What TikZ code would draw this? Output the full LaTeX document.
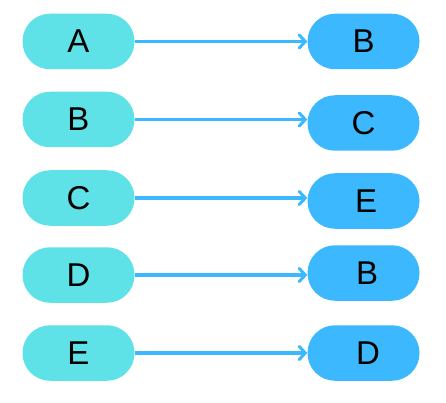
\documentclass[tikz,border=0pt]{standalone}
\usepackage{fontspec}
\setmainfont{Liberation Sans}
\usetikzlibrary{arrows.meta}
\definecolor{leftc}{HTML}{5EE2E7}
\definecolor{rightc}{HTML}{3CB8FF}
\definecolor{arrc}{HTML}{3CB8FF}
\begin{document}
\begin{tikzpicture}[x=1pt,y=-1pt,
  pill/.style={rounded corners=27.5pt,minimum width=112pt,minimum height=55.5pt,inner sep=0pt,font=\fontsize{33}{35}\selectfont,text=black},
  lnode/.style={pill,fill=leftc},
  rnode/.style={pill,fill=rightc},
  conn/.style={draw=arrc,line width=3.3pt,-{Straight Barb[length=6pt,width=13pt,line width=3pt,line cap=round]}}]
\useasboundingbox (0,0) rectangle (446,403);
\node[lnode] (l1) at (78.5,41.5) {A};
\node[lnode] (l2) at (78.5,119.5) {B};
\node[lnode] (l3) at (78.5,198) {C};
\node[lnode] (l4) at (78.5,275) {D};
\node[lnode] (l5) at (78.5,353) {E};
\node[rnode] (r1) at (363.5,41.5) {B};
\node[rnode] (r2) at (363.5,123) {C};
\node[rnode] (r3) at (363.5,201) {\hspace*{5pt}E};
\node[rnode] (r4) at (363.5,273) {\hspace*{7pt}B};
\node[rnode] (r5) at (363.5,353) {\hspace*{9pt}D};
\draw[conn] (l1.east) -- (r1.west |- l1.east);
\draw[conn] (l2.east) -- (r2.west |- l2.east);
\draw[conn] (l3.east) -- (r3.west |- l3.east);
\draw[conn] (l4.east) -- (r4.west |- l4.east);
\draw[conn] (l5.east) -- (r5.west |- l5.east);
\end{tikzpicture}
\end{document}
